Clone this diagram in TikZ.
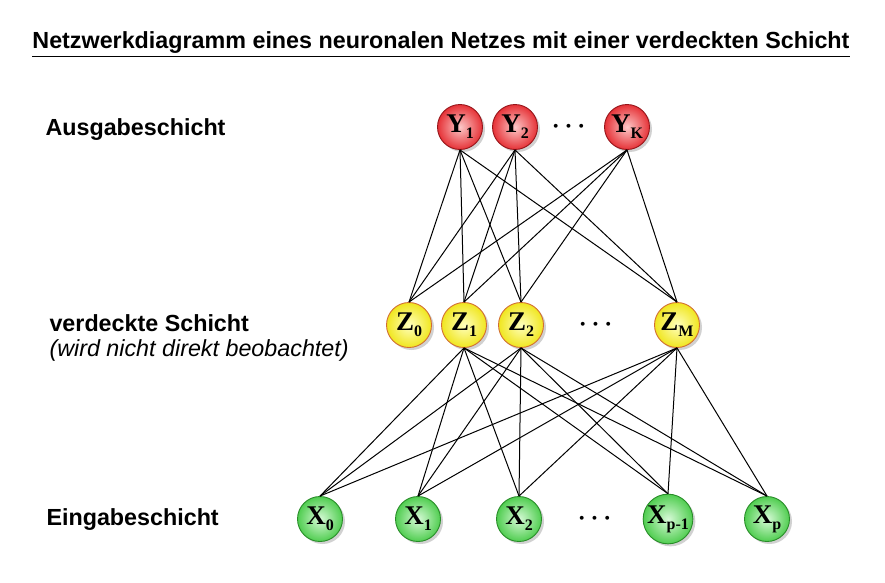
\documentclass[tikz,border=0pt]{standalone}
\usepackage{amsmath}
\usepackage{fontspec}
\setmainfont{Liberation Serif}
\setsansfont{Liberation Sans}
\usetikzlibrary{positioning, shadows}

\definecolor{redin}{RGB}{252,200,200}
\definecolor{redout}{RGB}{230,50,55}
\definecolor{redline}{RGB}{150,20,25}
\definecolor{yelin}{RGB}{255,255,190}
\definecolor{yelout}{RGB}{240,230,30}
\definecolor{yelline}{RGB}{210,110,50}
\definecolor{grnin}{RGB}{215,250,215}
\definecolor{grnout}{RGB}{80,205,80}
\definecolor{grnline}{RGB}{40,140,40}

\newcommand{\lowidx}[1]{{\fontsize{16}{16}\selectfont\raisebox{-6pt}{#1}}}

\begin{document}
\begin{tikzpicture}[x=1pt, y=-1pt,
  neuron/.style={circle, minimum size=45pt, inner sep=0pt, line width=0.9pt,
    font=\fontsize{27}{27}\selectfont\bfseries,
    drop shadow={shadow xshift=2.5pt, shadow yshift=-2.5pt, opacity=0.3, fill=black!60}},
  outnode/.style={neuron, draw=redline, inner color=redin, outer color=redout},
  hidnode/.style={neuron, draw=yelline, inner color=yelin, outer color=yelout},
  innode/.style={neuron, draw=grnline, inner color=grnin, outer color=grnout},
  layerlbl/.style={anchor=west, font=\sffamily\bfseries\fontsize{23.3}{26}\selectfont},
  dotsnode/.style={font=\fontsize{27}{27}\selectfont, inner sep=0pt},
  link/.style={line width=1pt, black},
]
  \useasboundingbox (0,0) rectangle (885,582);

  % title
  \node[font=\sffamily\bfseries\fontsize{23.3}{26}\selectfont] (title) at (441,45)
    {\underline{Netzwerkdiagramm eines neuronalen Netzes mit einer verdeckten Schicht}};

  % layer labels
  \node[layerlbl] (outlbl) at (42,130) {Ausgabeschicht};
  \node[layerlbl] (hidlbl) at (46,323) {verdeckte Schicht};
  \node[layerlbl, font=\sffamily\itshape\fontsize{23.3}{26}\selectfont] (hidnote) at (46,350) {(wird nicht direkt beobachtet)};
  \node[layerlbl] (inlbl) at (43,520) {Eingabeschicht};

  % output layer
  \node[outnode] (y1) at (460,127) {Y\lowidx{1}};
  \node[outnode] (y2) at (515,127) {Y\lowidx{2}};
  \node[dotsnode] (ydots) at (571,127) {$\boldsymbol{\cdots}$};
  \node[outnode] (yk) at (627,127) {Y\lowidx{K}};

  % hidden layer
  \node[hidnode] (z0) at (409,325) {Z\lowidx{0}};
  \node[hidnode] (z1) at (464,325) {Z\lowidx{1}};
  \node[hidnode] (z2) at (521,325) {Z\lowidx{2}};
  \node[dotsnode] (zdots) at (598,325) {$\boldsymbol{\cdots}$};
  \node[hidnode] (zm) at (677,325) {Z\lowidx{M}};

  % input layer
  \node[innode] (x0) at (320,519) {X\lowidx{0}};
  \node[innode] (x1) at (418,519) {X\lowidx{1}};
  \node[innode] (x2) at (519,519) {X\lowidx{2}};
  \node[dotsnode] (xdots) at (597,519) {$\boldsymbol{\cdots}$};
  \node[innode] (xp1) at (668,519) {X\lowidx{p-1}};
  \node[innode] (xp) at (767,519) {X\lowidx{p}};

  % connections
  \foreach \u in {y1,y2,yk}
    \foreach \h in {z0,z1,z2,zm}
      \draw[link] (\u.south) -- (\h.north);
  \foreach \h in {z1,z2,zm}
    \foreach \i in {x0,x1,x2,xp1,xp}
      \draw[link] (\h.south) -- (\i.north);
\end{tikzpicture}
\end{document}
